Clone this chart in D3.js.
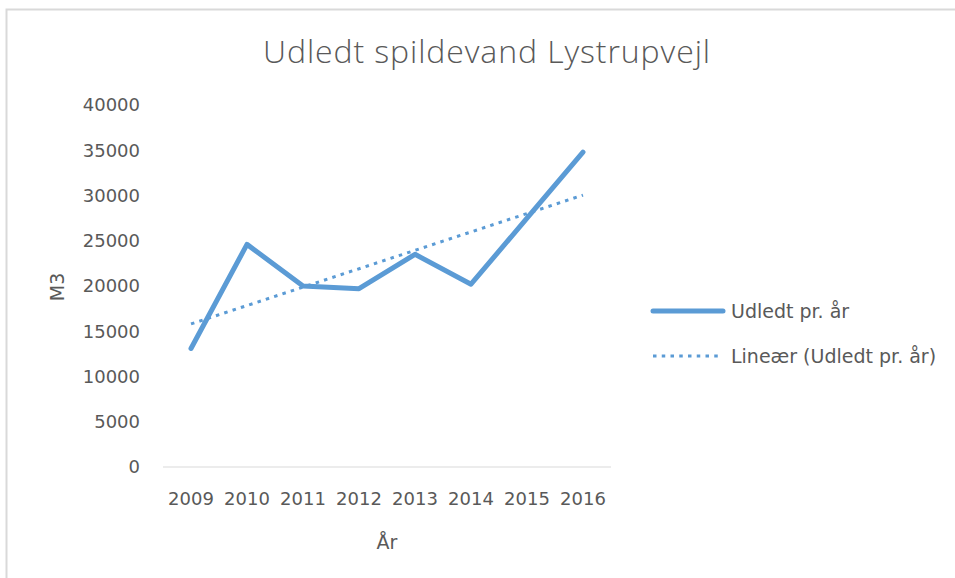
<!DOCTYPE html>
<html>
<head>
<meta charset="utf-8">
<script src="https://cdn.jsdelivr.net/npm/d3@7"></script>
<style>
  body { margin: 0; background: #fff; }
  text { font-family: "DejaVu Sans", sans-serif; fill: #595959; }
</style>
</head>
<body>
<div id="container-svg"></div>
<script>
// ---- data
var years = ["2009", "2010", "2011", "2012", "2013", "2014", "2015", "2016"];
var values = [13100, 24600, 20000, 19700, 23500, 20200, 27500, 34800];
var y_ticks = [0, 5000, 10000, 15000, 20000, 25000, 30000, 35000, 40000];
var legend_labels = ["Udledt pr. år", "Lineær (Udledt pr. år)"];

var svg_width = 955,
    svg_height = 578,
    color_line = "#5B9BD5",
    dots = "3.5,5.25";

var plot = {left: 163, right: 611, top: 105, bottom: 467};

var svg = d3.select("#container-svg").append("svg")
    .attr("width", svg_width)
    .attr("height", svg_height);

// chart frame (only top & left edge visible in the crop)
svg.append("rect")
    .attr("x", 6.5).attr("y", 9.5)
    .attr("width", svg_width + 10).attr("height", svg_height + 10)
    .attr("fill", "#fff")
    .attr("stroke", "#d9d9d9")
    .attr("stroke-width", 2);

// ---- scales
var x = d3.scalePoint()
    .domain(years)
    .range([plot.left, plot.right])
    .padding(0.5);

var y = d3.scaleLinear()
    .domain([0, 40000])
    .range([plot.bottom, plot.top]);

// ---- title
svg.append("text")
    .attr("x", 487).attr("y", 63)
    .attr("text-anchor", "middle")
    .style("font-family", "'Open Sans', sans-serif")
    .style("font-weight", 300)
    .style("font-size", "32px")
    .style("letter-spacing", "0.9px")
    .text("Udledt spildevand Lystrupvejl");

// ---- y axis labels
svg.selectAll("text.ylab")
    .data(y_ticks)
    .enter().append("text")
    .attr("class", "ylab")
    .attr("x", 140)
    .attr("y", function(d) { return y(d); })
    .attr("dy", "0.36em")
    .attr("text-anchor", "end")
    .style("font-size", "18px")
    .text(function(d) { return d; });

// baseline
svg.append("line")
    .attr("x1", plot.left).attr("x2", plot.right)
    .attr("y1", y(0)).attr("y2", y(0))
    .attr("stroke", "#d9d9d9")
    .attr("stroke-width", 1);

// ---- x axis labels
svg.selectAll("text.xlab")
    .data(years)
    .enter().append("text")
    .attr("class", "xlab")
    .attr("x", function(d) { return x(d); })
    .attr("y", 505)
    .attr("text-anchor", "middle")
    .style("font-size", "18px")
    .text(function(d) { return d; });

// axis titles
svg.append("text")
    .attr("x", 387).attr("y", 549)
    .attr("text-anchor", "middle")
    .style("font-size", "19px")
    .text("År");

svg.append("text")
    .attr("transform", "translate(64,287) rotate(-90)")
    .attr("text-anchor", "middle")
    .style("font-size", "19px")
    .text("M3");

// ---- linear trend (least squares on the series)
var n = values.length,
    mx = d3.mean(d3.range(n)),
    my = d3.mean(values),
    slope = d3.sum(values, function(v, i) { return (i - mx) * (v - my); }) /
            d3.sum(d3.range(n), function(i) { return (i - mx) * (i - mx); }),
    inter = my - slope * mx;

var trend = [0, n - 1].map(function(i) {
    return {year: years[i], value: inter + slope * i};
});

var line = d3.line()
    .x(function(d) { return x(d.year); })
    .y(function(d) { return y(d.value); });

var series = years.map(function(yr, i) { return {year: yr, value: values[i]}; });

svg.append("path")
    .datum(series)
    .attr("d", line)
    .attr("fill", "none")
    .attr("stroke", color_line)
    .attr("stroke-width", 5)
    .attr("stroke-linejoin", "round")
    .attr("stroke-linecap", "round");

svg.append("path")
    .datum(trend)
    .attr("d", line)
    .attr("fill", "none")
    .attr("stroke", color_line)
    .attr("stroke-width", 3)
    .attr("stroke-dasharray", dots);

// ---- legend
var legend_y = [311, 356];
legend_labels.forEach(function(lbl, i) {
    svg.append("line")
        .attr("x1", 653).attr("x2", 723)
        .attr("y1", legend_y[i]).attr("y2", legend_y[i])
        .attr("stroke", color_line)
        .attr("stroke-width", i == 0 ? 5 : 3)
        .attr("stroke-linecap", i == 0 ? "round" : "butt")
        .attr("stroke-dasharray", i == 0 ? null : dots);
    svg.append("text")
        .attr("x", 731)
        .attr("y", legend_y[i])
        .attr("dy", "0.36em")
        .style("font-size", "19px")
        .text(lbl);
});
</script>
</body>
</html>
